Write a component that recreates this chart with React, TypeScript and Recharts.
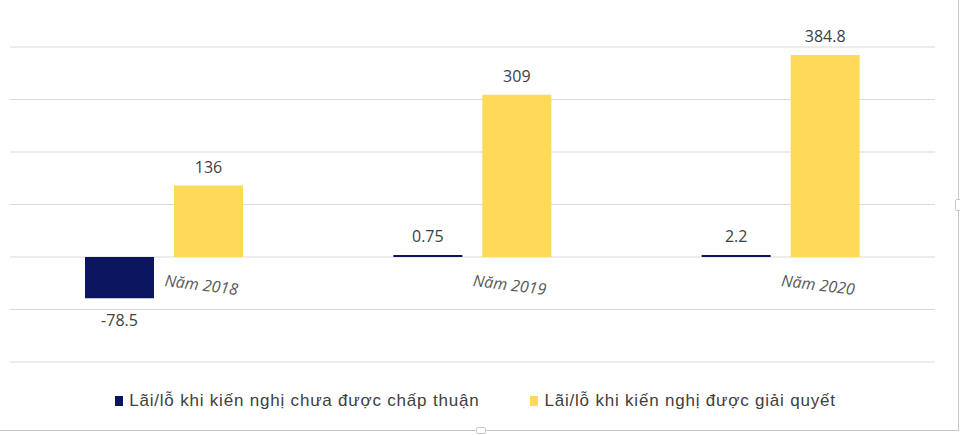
import React from "react";
import { BarChart, Bar, XAxis, YAxis, CartesianGrid, LabelList, Legend } from "recharts";

const categories = ["Năm 2018", "Năm 2019", "Năm 2020"];
const pendingValues = [-78.5, 0.75, 2.2];
const resolvedValues = [136, 309, 384.8];
const yTicks = [-200, -100, 0, 100, 200, 300, 400];
const seriesNames = [
  "Lãi/lỗ khi kiến nghị chưa được chấp thuận",
  "Lãi/lỗ khi kiến nghị được giải quyết",
];
const seriesColors = ["#0C1660", "#FFD95A"];

const data = categories.map((c, i) => ({
  name: c,
  pending: pendingValues[i],
  resolved: resolvedValues[i],
}));

const CategoryTick = (props: any) => {
  const { x, y, payload } = props;
  const ty = y - 76;
  return (
    <text
      x={x}
      y={ty}
      transform={`rotate(7, ${x}, ${ty})`}
      textAnchor="start"
      fontFamily="'Open Sans', sans-serif"
      fontStyle="italic"
      fontSize={16}
      fill="#595959"
    >
      {payload.value}
    </text>
  );
};

const ValueLabel = (props: any) => {
  const { x, y, width, height, value } = props;
  const v = Number(value);
  const topEdge = Math.min(y, y + height);
  const bottomEdge = Math.max(y, y + height);
  const baseline = v >= 0 ? topEdge - 13 : bottomEdge + 28;
  return (
    <text
      x={x + width / 2}
      y={baseline}
      textAnchor="middle"
      fill="#404040"
      fontSize={16}
      fontFamily="'Open Sans', sans-serif"
    >
      {String(value)}
    </text>
  );
};

const LegendContent = () => (
  <div
    style={{
      display: "flex",
      justifyContent: "center",
      alignItems: "center",
      gap: 51,
      fontFamily: "'Liberation Sans', Arial, sans-serif",
      fontSize: 17,
      letterSpacing: 0.8,
      color: "#404040",
      paddingRight: 9,
    }}
  >
    {seriesNames.map((n, i) => (
      <div key={n} style={{ display: "flex", alignItems: "center" }}>
        <span
          style={{
            display: "inline-block",
            width: 8,
            height: 10,
            background: seriesColors[i],
            marginRight: 6,
          }}
        />
        <span>{n}</span>
      </div>
    ))}
  </div>
);

export default function App() {
  return (
    <div style={{ position: "fixed", left: 0, top: 0, width: 960, height: 435, background: "#fff" }}>
      <BarChart
        width={960}
        height={435}
        data={data}
        margin={{ top: 47, right: 25, bottom: 72, left: 10 }}
        barGap={20}
        barSize={69}
      >
        <CartesianGrid horizontal vertical={false} stroke="#D9D9D9" strokeWidth={1} />
        <YAxis hide domain={[-200, 400]} ticks={yTicks} type="number" allowDataOverflow />
        <XAxis
          dataKey="name"
          height={1}
          axisLine={false}
          tickLine={false}
          tickSize={0}
          tickMargin={0}
          interval={0}
          tick={<CategoryTick />}
        />
        <Legend
          verticalAlign="middle"
          layout="horizontal"
          align="center"
          content={<LegendContent />}
          wrapperStyle={{ top: 391, left: 0, width: 960 }}
        />
        <Bar dataKey="pending" name={seriesNames[0]} fill={seriesColors[0]} isAnimationActive={false} minPointSize={2}>
          <LabelList dataKey="pending" content={<ValueLabel />} />
        </Bar>
        <Bar dataKey="resolved" name={seriesNames[1]} fill={seriesColors[1]} isAnimationActive={false}>
          <LabelList dataKey="resolved" content={<ValueLabel />} />
        </Bar>
      </BarChart>
      <div style={{ position: "absolute", left: 958, top: 0, width: 1, height: 431, background: "#C8C8C8" }} />
      <div style={{ position: "absolute", left: 0, top: 430, width: 959, height: 1, background: "#C8C8C8" }} />
      <div style={{ position: "absolute", left: 955, top: 199, width: 5, height: 10, background: "#fff", border: "1px solid #C8C8C8", borderRadius: 2 }} />
      <div style={{ position: "absolute", left: 476, top: 427, width: 8, height: 5, background: "#fff", border: "1px solid #C8C8C8", borderRadius: 2 }} />
    </div>
  );
}
